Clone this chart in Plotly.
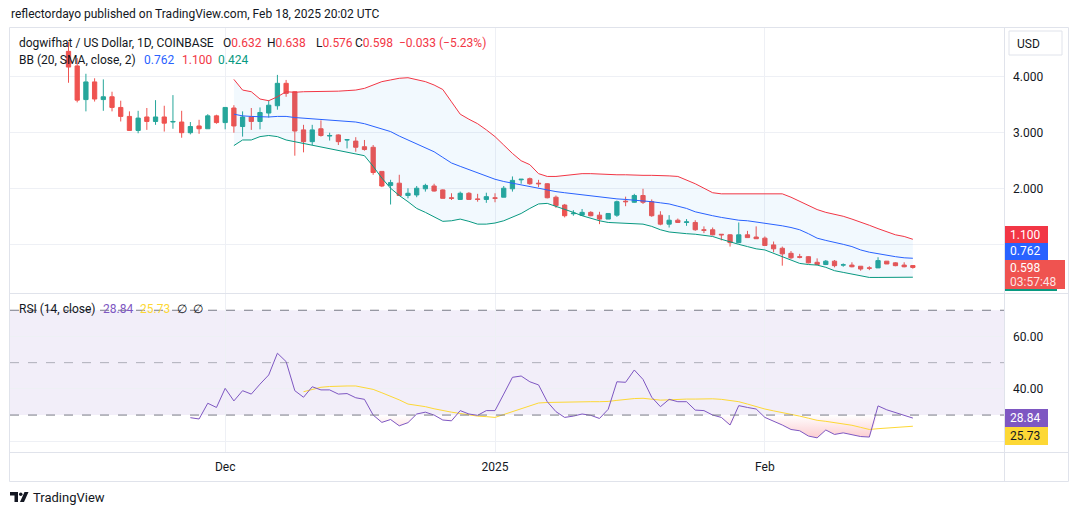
import plotly.graph_objects as go
import pandas as pd

# ---------------- data ----------------
dates = pd.date_range("2024-11-13", "2025-02-18", freq="D")

opens = [4.45, 4.19, 3.59, 3.905, 3.59, 3.64, 3.45, 3.29, 3.04, 3.28,
         3.20, 3.28, 3.19, 3.19, 3.00, 3.12, 3.07, 3.30, 3.18, 3.44,
         3.11, 3.28, 3.20, 3.35, 3.48, 3.88, 3.73, 3.05, 2.84, 3.07,
         2.94, 2.96, 2.87, 2.85, 2.75, 2.74, 2.31, 2.06, 2.10, 1.88,
         1.89, 2.00, 2.05, 1.98, 1.84, 1.81, 1.92, 1.82, 1.81, 1.84,
         1.85, 2.00, 2.16, 2.18, 2.10, 2.09, 1.85, 1.71, 1.555, 1.53,
         1.58, 1.53, 1.46, 1.53, 1.78, 1.76, 1.88, 1.77, 1.53, 1.37,
         1.44, 1.40, 1.40, 1.27, 1.27, 1.19, 1.18, 1.04, 1.18, 1.14,
         1.12, 1.00, 0.94, 0.85, 0.79, 0.79, 0.69, 0.65, 0.71, 0.64,
         0.64, 0.62, 0.59, 0.59, 0.71, 0.68, 0.64, 0.632]
highs = [4.62, 4.33, 4.05, 3.97, 3.95, 3.73, 3.57, 3.38, 3.39, 3.44,
         3.58, 3.48, 3.67, 3.39, 3.19, 3.23, 3.33, 3.32, 3.45, 3.49,
         3.38, 3.44, 3.45, 3.58, 4.03, 3.94, 3.74, 3.14, 3.14, 3.22,
         3.00, 2.97, 2.88, 2.92, 2.87, 2.78, 2.31, 2.16, 2.25, 2.01,
         2.05, 2.09, 2.09, 1.99, 1.92, 1.95, 1.94, 1.91, 1.93, 1.92,
         2.05, 2.22, 2.17, 2.20, 2.16, 2.10, 1.88, 1.73, 1.62, 1.64,
         1.60, 1.59, 1.56, 1.79, 1.86, 1.91, 2.00, 1.81, 1.60, 1.53,
         1.47, 1.46, 1.44, 1.33, 1.31, 1.19, 1.19, 1.40, 1.25, 1.33,
         1.15, 1.06, 0.97, 0.89, 0.84, 0.80, 0.76, 0.73, 0.73, 0.67,
         0.69, 0.62, 0.62, 0.78, 0.71, 0.69, 0.69, 0.638]
lows = [3.89, 3.54, 3.38, 3.555, 3.39, 3.38, 3.20, 3.03, 2.99, 3.05,
        3.14, 3.02, 3.07, 2.91, 2.97, 2.98, 3.07, 3.16, 3.06, 3.00,
        2.93, 3.05, 3.06, 3.27, 3.41, 3.64, 2.59, 2.65, 2.78, 2.93,
        2.86, 2.78, 2.72, 2.66, 2.68, 2.25, 2.03, 1.72, 1.88, 1.83,
        1.85, 1.95, 1.95, 1.83, 1.80, 1.80, 1.80, 1.77, 1.75, 1.76,
        1.85, 1.95, 2.09, 2.07, 2.03, 1.83, 1.66, 1.49, 1.52, 1.52,
        1.51, 1.37, 1.46, 1.50, 1.69, 1.75, 1.73, 1.50, 1.35, 1.31,
        1.39, 1.34, 1.25, 1.21, 1.17, 1.08, 0.97, 1.03, 1.13, 1.11,
        0.99, 0.87, 0.63, 0.75, 0.76, 0.67, 0.64, 0.64, 0.60, 0.61,
        0.60, 0.54, 0.55, 0.59, 0.66, 0.62, 0.60, 0.576]
closes = [4.17, 3.58, 3.905, 3.60, 3.64, 3.45, 3.29, 3.04, 3.26, 3.20,
          3.28, 3.17, 3.20, 3.00, 3.11, 3.07, 3.30, 3.18, 3.45, 3.12,
          3.28, 3.20, 3.36, 3.49, 3.88, 3.70, 3.03, 2.84, 3.05, 2.95,
          2.95, 2.84, 2.875, 2.74, 2.70, 2.29, 2.05, 2.11, 1.88, 1.92,
          2.01, 2.06, 1.96, 1.83, 1.83, 1.92, 1.81, 1.81, 1.86, 1.83,
          2.01, 2.15, 2.17, 2.09, 2.09, 1.84, 1.70, 1.52, 1.565, 1.58,
          1.52, 1.46, 1.56, 1.77, 1.77, 1.88, 1.76, 1.52, 1.37, 1.44,
          1.40, 1.41, 1.27, 1.26, 1.18, 1.18, 1.04, 1.18, 1.13, 1.11,
          0.99, 0.93, 0.84, 0.77, 0.78, 0.68, 0.65, 0.71, 0.63, 0.645,
          0.61, 0.57, 0.585, 0.72, 0.66, 0.63, 0.61, 0.598]

# Bollinger Bands (20, SMA, close, 2) - values from Dec 2 onward
bb_upper = [3.95, 3.76, 3.73, 3.60, 3.57, 3.64, 3.73, 3.72, 3.73, 3.73,
            3.73, 3.74, 3.74, 3.75, 3.76, 3.79, 3.85, 3.91, 3.94, 3.97,
            3.98, 3.95, 3.91, 3.85, 3.77, 3.55, 3.33, 3.24, 3.16, 3.05,
            2.93, 2.78, 2.63, 2.50, 2.43, 2.27, 2.22, 2.22, 2.24, 2.25,
            2.27, 2.27, 2.26, 2.25, 2.25, 2.25, 2.24, 2.24, 2.24, 2.24,
            2.23, 2.22, 2.16, 2.09, 2.01, 1.93, 1.91, 1.91, 1.91, 1.91,
            1.91, 1.91, 1.91, 1.91, 1.85, 1.78, 1.70, 1.63, 1.58, 1.55,
            1.51, 1.46, 1.41, 1.35, 1.29, 1.24, 1.18, 1.15, 1.10]
bb_basis = [3.33, 3.30, 3.29, 3.28, 3.28, 3.29, 3.29, 3.27, 3.26, 3.25,
            3.24, 3.23, 3.22, 3.20, 3.19, 3.16, 3.11, 3.07, 3.02, 2.94,
            2.87, 2.81, 2.74, 2.66, 2.56, 2.46, 2.40, 2.34, 2.29, 2.23,
            2.17, 2.13, 2.10, 2.06, 2.03, 2.00, 1.97, 1.95, 1.93, 1.91,
            1.89, 1.87, 1.85, 1.83, 1.82, 1.81, 1.80, 1.78, 1.77, 1.75,
            1.73, 1.69, 1.65, 1.59, 1.55, 1.52, 1.49, 1.46, 1.44, 1.43,
            1.41, 1.39, 1.37, 1.34, 1.31, 1.27, 1.20, 1.12, 1.08, 1.05,
            1.01, 0.97, 0.91, 0.87, 0.84, 0.82, 0.79, 0.77, 0.762]
bb_lower = [2.77, 2.87, 2.87, 2.93, 2.95, 2.93, 2.87, 2.84, 2.81, 2.78,
            2.75, 2.72, 2.69, 2.66, 2.63, 2.59, 2.40, 2.19, 2.01, 1.88,
            1.77, 1.65, 1.58, 1.50, 1.42, 1.43, 1.46, 1.42, 1.37, 1.37,
            1.39, 1.43, 1.49, 1.56, 1.65, 1.73, 1.74, 1.69, 1.64, 1.58,
            1.52, 1.47, 1.43, 1.40, 1.39, 1.38, 1.37, 1.37, 1.33, 1.27,
            1.23, 1.21, 1.20, 1.19, 1.17, 1.15, 1.10, 1.05, 1.01, 0.97,
            0.93, 0.91, 0.85, 0.79, 0.73, 0.67, 0.65, 0.64, 0.60, 0.54,
            0.51, 0.48, 0.45, 0.42, 0.42, 0.42, 0.42, 0.42, 0.424]

# RSI (14, close) - from Nov 27 onward
rsi = [29.0, 28.5, 34.5, 32.9, 40.2, 35.4, 39.3, 38.0, 41.8, 45.3,
       53.6, 50.4, 39.3, 36.8, 40.8, 39.6, 39.6, 38.0, 38.2, 36.6,
       36.0, 30.0, 27.2, 28.3, 25.9, 27.1, 30.4, 31.1, 30.0, 28.1,
       27.8, 31.7, 30.4, 29.9, 31.7, 31.7, 38.0, 44.4, 44.9, 42.7,
       41.5, 35.1, 31.3, 29.1, 29.6, 30.4, 29.9, 28.7, 32.2, 42.7,
       42.5, 47.2, 43.6, 36.8, 33.2, 36.0, 35.1, 35.1, 31.9, 31.7,
       30.0, 29.1, 26.2, 33.6, 32.9, 32.3, 29.1, 27.7, 26.2, 24.5,
       24.0, 22.0, 21.3, 24.3, 22.6, 23.2, 22.6, 21.8, 21.6, 33.5,
       32.0, 31.0, 30.0, 28.84]
# RSI-based MA (14, SMA) - from Dec 10 onward
rsi_ma = [38.9, 39.8, 40.6, 40.9, 41.1, 41.1, 41.1, 40.5, 39.8, 38.5,
          37.3, 35.8, 34.2, 33.7, 33.2, 32.4, 31.7, 31.1, 30.6, 30.1,
          29.6, 29.4, 29.1, 30.2, 31.3, 32.5, 33.8, 34.6, 34.8, 34.9,
          35.0, 35.1, 35.1, 35.1, 35.1, 35.2, 35.6, 36.0, 36.3, 36.4,
          36.0, 35.7, 35.8, 36.0, 36.1, 36.1, 36.2, 36.2, 36.0, 35.6,
          35.1, 34.2, 33.2, 32.3, 31.6, 31.0, 30.4, 29.6, 28.8, 28.0,
          27.6, 27.1, 26.6, 26.1, 25.3, 24.5, 24.8, 25.0, 25.2, 25.5,
          25.73]

# grid levels; labels hidden behind the price badges are left blank
price_ticks = [1, 2, 3, 4]
price_tick_text = ["", "2.000", "3.000", "4.000"]
rsi_ticks = [20, 40, 60]
rsi_tick_text = ["", "40.00", "60.00"]
time_ticks = ["2024-12-01", "2025-01-01", "2025-02-01"]
time_tick_text = ["Dec", "2025", "Feb"]

bb_dates = dates[len(dates) - len(bb_upper):]
rsi_dates = dates[len(dates) - len(rsi):]
ma_dates = dates[len(dates) - len(rsi_ma):]

# ---------------- styling ----------------
FONT = "Roboto, 'Open Sans', sans-serif"
TXT = "#131722"
GRID = "#eef0f5"
BORDER = "#e0e3eb"
UP = "#26a69a"
DOWN = "#ef5350"

W, H = 1080, 515
PL, PR, PT, PB = 10, 1004, 28, 452  # plot area in pixels


def X(px):
    return (px - PL) / (PR - PL)


def Y(py):
    return (PB - py) / (PB - PT)


fig = go.Figure()

# Bollinger Bands
fig.add_trace(go.Scatter(x=bb_dates, y=bb_upper, mode="lines",
                         line=dict(color="#f23645", width=1),
                         hoverinfo="skip", showlegend=False))
fig.add_trace(go.Scatter(x=bb_dates, y=bb_lower, mode="lines",
                         line=dict(color="#089981", width=1),
                         fill="tonexty", fillcolor="rgba(33,150,243,0.06)",
                         hoverinfo="skip", showlegend=False))
fig.add_trace(go.Scatter(x=bb_dates, y=bb_basis, mode="lines",
                         line=dict(color="#2962ff", width=1),
                         hoverinfo="skip", showlegend=False))

# Candles
fig.add_trace(go.Candlestick(
    x=dates, open=opens, high=highs, low=lows, close=closes,
    increasing=dict(line=dict(color=UP, width=1), fillcolor=UP),
    decreasing=dict(line=dict(color=DOWN, width=1), fillcolor=DOWN),
    whiskerwidth=0, showlegend=False))

# RSI oversold fill (RSI below 30)
rsi_clip = [min(v, 30) for v in rsi]
fig.add_trace(go.Scatter(x=rsi_dates, y=[30] * len(rsi), mode="lines",
                         line=dict(width=0, color="rgba(0,0,0,0)"),
                         xaxis="x2", yaxis="y2", hoverinfo="skip", showlegend=False))
fig.add_trace(go.Scatter(x=rsi_dates, y=rsi_clip, mode="lines",
                         line=dict(width=0, color="rgba(0,0,0,0)"),
                         fill="tonexty",
                         fillgradient=dict(type="vertical", start=19, stop=30,
                                           colorscale=[[0, "rgba(242,54,69,0.32)"],
                                                       [1, "rgba(242,54,69,0.0)"]]),
                         xaxis="x2", yaxis="y2", hoverinfo="skip", showlegend=False))
fig.add_trace(go.Scatter(x=ma_dates, y=rsi_ma, mode="lines",
                         line=dict(color="#fdd835", width=1),
                         xaxis="x2", yaxis="y2", hoverinfo="skip", showlegend=False))
fig.add_trace(go.Scatter(x=rsi_dates, y=rsi, mode="lines",
                         line=dict(color="#7e57c2", width=1),
                         xaxis="x2", yaxis="y2", hoverinfo="skip", showlegend=False))

x_range = ["2024-11-06 06:43", "2025-02-28 11:17"]

shapes = []
# RSI band 30-70
shapes.append(dict(type="rect", xref="x2 domain", yref="y2", x0=0, x1=1, y0=30, y1=70,
                   fillcolor="rgba(126,87,194,0.1)", line=dict(width=0), layer="below"))
for lvl, col in [(70, "#787b86"), (50, "rgba(120,123,134,0.55)"), (30, "#787b86")]:
    shapes.append(dict(type="line", xref="x2 domain", yref="y2", x0=0, x1=1, y0=lvl, y1=lvl,
                       line=dict(color=col, width=1, dash="dash"), layer="above"))


def pline(x0, y0, x1, y1, color=BORDER, width=1):
    shapes.append(dict(type="line", xref="paper", yref="paper",
                       x0=X(x0), y0=Y(y0), x1=X(x1), y1=Y(y1),
                       line=dict(color=color, width=width), layer="above"))


# frame and separators
pline(9.5, 27.5, 1068.5, 27.5)
pline(9.5, 481.5, 1068.5, 481.5)
pline(9.5, 27.5, 9.5, 481.5)
pline(1068.5, 27.5, 1068.5, 481.5)
pline(9.5, 293.5, 1068.5, 293.5)
pline(9.5, 452.5, 1068.5, 452.5)
pline(1004.5, 27.5, 1004.5, 481.5)


def prect(x0, y0, x1, y1, fill, line=None, layer="above"):
    shapes.append(dict(type="rect", xref="paper", yref="paper",
                       x0=X(x0), y0=Y(y1), x1=X(x1), y1=Y(y0),
                       fillcolor=fill, line=dict(width=1 if line else 0, color=line or fill),
                       layer=layer))


annotations = []


def ann(x, y, text, color=TXT, size=12, anchor="left", **kw):
    annotations.append(dict(x=X(x), y=Y(y), xref="paper", yref="paper", text=text,
                            showarrow=False, xanchor=anchor, yanchor="middle",
                            font=dict(family=FONT, size=size, color=color),
                            borderpad=0, **kw))


# USD button
prect(1009, 31, 1062, 55, "white", BORDER)
ann(1016, 43.5, "USD", TXT, 12)

# price badges
prect(1005, 226, 1048, 243, "#f23645")
ann(1009, 234.5, "1.100", "white", 12)
prect(1005, 243, 1048, 260, "#2962ff")
ann(1009, 251.5, "0.762", "white", 12)
prect(1005, 288, 1057, 291, "#089981")
prect(1005, 260, 1065, 289, "#ef5350")
ann(1009, 267.5, "0.598", "white", 12)
ann(1009, 282, "03:57:48", "rgba(255,255,255,0.85)", 12)

# RSI badges
prect(1005, 409, 1048, 427, "#7e57c2")
ann(1009, 418, "28.84", "white", 12)
prect(1005, 427, 1048, 445, "#fdd835")
ann(1009, 436, "25.73", TXT, 12)

# Header texts
RED = "#f23645"
ann(10, 14, "reflectordayo published on TradingView.com, Feb 18, 2025 20:02 UTC", TXT, 12)
ann(18, 43, "dogwifhat / US Dollar, 1D, COINBASE", TXT, 12)
ann(222, 43, "O<span style='color:%s'>0.632</span>" % RED, TXT, 12)
ann(266, 43, "H<span style='color:%s'>0.638</span>" % RED, TXT, 12)
ann(315, 43, "L<span style='color:%s'>0.576</span>" % RED, TXT, 12)
ann(354, 43, "C<span style='color:%s'>0.598</span>" % RED, TXT, 12)
ann(398, 43, "\u22120.033 (\u22125.23%)", RED, 12)
ann(18, 60, "BB (20, SMA, close, 2)", TXT, 12)
ann(143, 60, "0.762", "#2962ff", 12)
ann(181, 60, "1.100", RED, 12)
ann(217, 60, "0.424", "#089981", 12)
ann(18, 309, "RSI (14, close)", TXT, 12)
ann(102, 309, "28.84", "#7e57c2", 12)
ann(139, 309, "25.73", "#fdd835", 12)
ann(176, 309, "\u2205", TXT, 12)
ann(192, 309, "\u2205", TXT, 12)

# Footer: TradingView logo + word
shapes.append(dict(type="path", xref="paper", yref="paper",
                   path="M %f %f L %f %f L %f %f L %f %f L %f %f L %f %f Z" % (
                       X(10), Y(492), X(18), Y(492), X(18), Y(502),
                       X(14.5), Y(502), X(14.5), Y(495.5), X(10), Y(495.5)),
                   fillcolor=TXT, line=dict(width=0), layer="above"))
shapes.append(dict(type="circle", xref="paper", yref="paper",
                   x0=X(19), x1=X(22.5), y0=Y(496), y1=Y(492.5),
                   fillcolor=TXT, line=dict(width=0), layer="above"))
shapes.append(dict(type="path", xref="paper", yref="paper",
                   path="M %f %f L %f %f L %f %f L %f %f Z" % (
                       X(24.5), Y(492), X(28.5), Y(492), X(24), Y(502), X(20), Y(502)),
                   fillcolor=TXT, line=dict(width=0), layer="above"))
ann(32, 497, "TradingView", TXT, 13)

fig.update_layout(
    width=W, height=H,
    margin=dict(l=PL, r=W - PR, t=PT, b=H - PB, pad=0),
    paper_bgcolor="white", plot_bgcolor="white",
    showlegend=False,
    font=dict(family=FONT, size=12, color=TXT),
    xaxis=dict(type="date", domain=[0, 1], anchor="y", range=x_range,
               rangeslider=dict(visible=False),
               tickvals=time_ticks, ticktext=time_tick_text, showticklabels=False,
               showgrid=True, gridcolor=GRID, gridwidth=1, zeroline=False,
               showline=False, ticks=""),
    xaxis2=dict(type="date", domain=[0, 1], anchor="y2", matches="x", range=x_range,
                tickvals=time_ticks, ticktext=time_tick_text, showticklabels=True,
                tickfont=dict(family=FONT, size=12, color=TXT),
                showgrid=True, gridcolor=GRID, gridwidth=1, zeroline=False,
                showline=False, ticks="", ticklabelstandoff=6),
    yaxis=dict(domain=[(PB - 293) / (PB - PT), 1], anchor="x", side="right",
               range=[0.1426, 4.866], tickvals=price_ticks, ticktext=price_tick_text,
               tickfont=dict(family=FONT, size=12, color=TXT),
               showgrid=True, gridcolor=GRID, gridwidth=1, zeroline=False,
               showline=False, ticks="", ticklabelstandoff=8),
    yaxis2=dict(domain=[0, (PB - 294) / (PB - PT)], anchor="x2", side="right",
                range=[15.9, 76.2], tickvals=rsi_ticks, ticktext=rsi_tick_text,
                tickfont=dict(family=FONT, size=12, color=TXT),
                showgrid=True, gridcolor=GRID, gridwidth=1, zeroline=False,
                showline=False, ticks="", ticklabelstandoff=8),
    shapes=shapes,
    annotations=annotations,
    hovermode=False,
)

fig.write_html("out.html", config=dict(displayModeBar=False))
